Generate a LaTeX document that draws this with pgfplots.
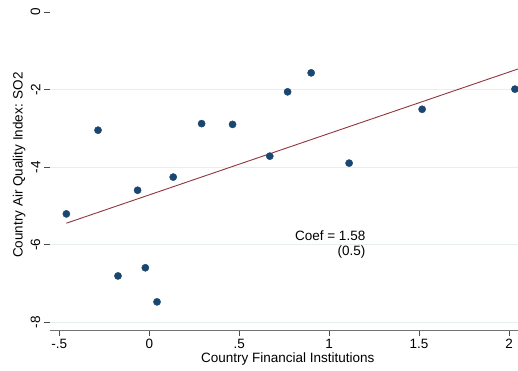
\documentclass[border=0pt]{standalone}
\usepackage{pgfplots}
\pgfplotsset{compat=1.18}
\usepackage{fontspec}
\setmainfont{Liberation Sans}
\definecolor{statanavy}{HTML}{1A476F}
\definecolor{statamaroon}{HTML}{90353B}
\definecolor{gridcol}{HTML}{E6EFF0}
\begin{document}
\begin{tikzpicture}
\begin{axis}[
  scale only axis,
  width=468pt, height=330pt,
  xmin=-0.552, xmax=2.05,
  ymin=-8.206, ymax=0.31,
  axis x line=bottom, axis y line=left,
  x axis line style={-, draw=gray!90!black, line width=1pt},
  y axis line style={draw=none},
  xtick={-0.5,0,0.5,1,1.5,2},
  xticklabels={-.5,0,.5,1,1.5,2},
  ytick={-8,-6,-4,-2},
  yticklabels={-8,-6,-4,-2},
  extra y ticks={0},
  extra y tick labels={0},
  extra y tick style={grid=none},
  ymajorgrids,
  grid style={gridcol, line width=1pt},
  tick align=outside,
  major tick length=6pt,
  tick style={black!70, line width=0.8pt},
  every tick label/.append style={font=\fontsize{13.5}{16}\selectfont},
  yticklabel style={rotate=90, anchor=south, inner sep=3.5pt},
  xticklabel style={inner sep=3pt},
  xlabel={Country Financial Institutions},
  ylabel={Country Air Quality Index: SO2},
  label style={font=\fontsize{13.5}{16}\selectfont},
  xlabel style={at={(axis description cs:0.508,-0.088)}, anchor=center},
  ylabel style={at={(axis description cs:-0.066,0.5)}, anchor=center},
  clip=false,
]
\addplot[only marks, mark=*, mark size=3.6pt, mark options={draw=statanavy, fill=statanavy}] coordinates {
  (-0.461,-5.21) (-0.285,-3.05) (-0.174,-6.81) (-0.065,-4.60) (-0.022,-6.60)
  (0.043,-7.48) (0.133,-4.26) (0.291,-2.88) (0.463,-2.90) (0.670,-3.72)
  (0.769,-2.06) (0.900,-1.57) (1.111,-3.90) (1.517,-2.51) (2.033,-1.99)
};
\addplot[statamaroon, line width=0.9pt] coordinates {(-0.461,-5.45) (2.05,-1.47)};
\node[anchor=north east, align=right, font=\fontsize{13.5}{15.5}\selectfont, inner sep=0pt] at (axis cs:1.202,-5.63) {Coef = 1.58\\(0.5)};
\end{axis}
\pgfresetboundingbox
\path (-50pt,-40pt) rectangle (468pt,330pt);
\end{tikzpicture}
\end{document}
